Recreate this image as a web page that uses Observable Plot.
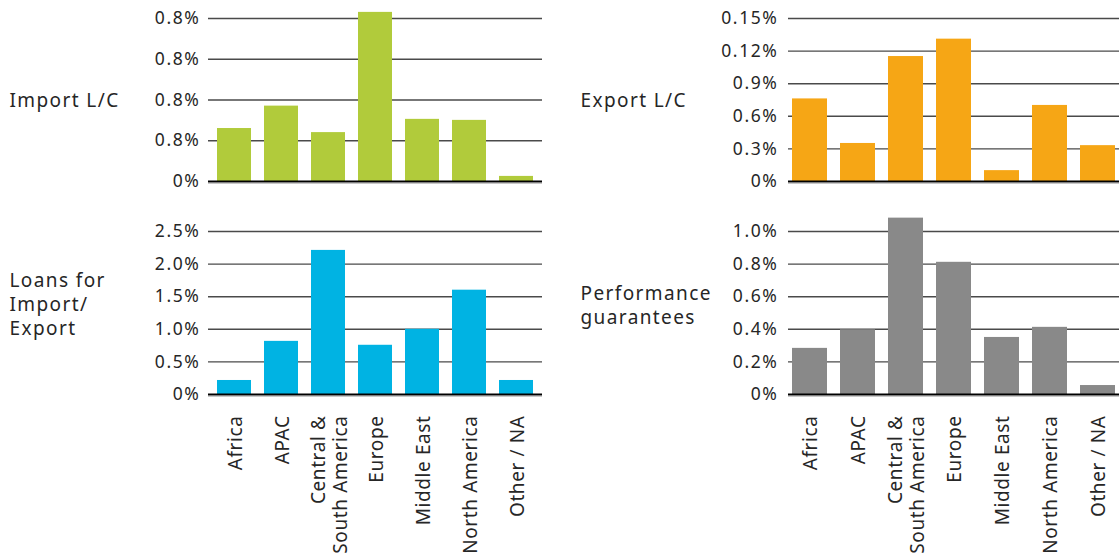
<!DOCTYPE html>
<html>
<head>
<meta charset="utf-8">
<script src="https://cdn.jsdelivr.net/npm/d3@7"></script>
<script src="https://cdn.jsdelivr.net/npm/@observablehq/plot@0.6"></script>
<style>
  html, body { margin: 0; padding: 0; background: #fff; }
  #chart { position: relative; width: 1119px; height: 558px; overflow: hidden; background: #fff; }
  #chart svg { position: absolute; overflow: visible; font-family: "Noto Sans", sans-serif; }
  #chart svg text { fill: #262626; }
  .tk text { letter-spacing: 1.6px; }
  .ttl text { letter-spacing: 1.4px; }
  .cat text { letter-spacing: 0.6px; }
</style>
</head>
<body>
<div id="chart"></div>
<script>
// ---- data ----
const regions = ["Africa", "APAC", "Central &\nSouth America", "Europe", "Middle East", "North America", "Other / NA"];

const importLC = [0.26, 0.37, 0.24, 0.83, 0.305, 0.30, 0.025];
const exportLC = [0.76, 0.35, 1.15, 1.31, 0.10, 0.70, 0.33];
const loansIE  = [0.215, 0.815, 2.21, 0.755, 1.0, 1.6, 0.215];
const perfGuar = [0.283, 0.397, 1.082, 0.811, 0.35, 0.412, 0.055];

const importTicks = [0, 0.2, 0.4, 0.6, 0.8];
const importTickLabels = ["0%", "0.8%", "0.8%", "0.8%", "0.8%"];
const exportTicks = [0, 0.3, 0.6, 0.9, 1.2, 1.5];
const exportTickLabels = ["0%", "0.3%", "0.6%", "0.9%", "0.12%", "0.15%"];
const loansTicks = [0, 0.5, 1.0, 1.5, 2.0, 2.5];
const loansTickLabels = ["0%", "0.5%", "1.0%", "1.5%", "2.0%", "2.5%"];
const perfTicks = [0, 0.2, 0.4, 0.6, 0.8, 1.0];
const perfTickLabels = ["0%", "0.2%", "0.4%", "0.6%", "0.8%", "1.0%"];

const titles = ["Import L/C", "Export L/C", "Loans for\nImport/\nExport", "Performance\nguarantees"];
const colors = ["#b1cb3b", "#f6a615", "#00b3e3", "#898989"];

// ---- panel builder ----
function panel(o) {
  const data = regions.map((r, i) => ({region: r, value: o.values[i]}));
  const labelOf = new Map(o.ticks.map((t, i) => [t, o.tickLabels[i]]));
  const marks = [
    Plot.ruleY(o.ticks.filter(t => t > 0), {stroke: "#4a4a4a", strokeWidth: 1.4}),
    Plot.barY(data, {x: "region", y: "value", fill: o.color}),
    Plot.ruleY([0], {stroke: "#c8c8c8", strokeWidth: 1, dy: 2}),
    Plot.ruleY([0], {stroke: "#000", strokeWidth: 2}),
    Plot.text(o.ticks, {y: d => d, text: d => labelOf.get(d), frameAnchor: "left", textAnchor: "end", dx: o.tickDx, fontSize: 17.5, className: "tk"}),
    Plot.text([o.title], {frameAnchor: "left", textAnchor: "start", dx: -(o.marginLeft - o.titleX), dy: o.titleDy, fontSize: 19, lineHeight: 1.27, className: "ttl"})
  ];
  if (o.showX) {
    marks.push(Plot.text(data, {x: "region", text: "region", frameAnchor: "bottom", rotate: -90, textAnchor: "end", lineAnchor: "middle", dy: 21, fontSize: 19, lineHeight: 1.16, className: "cat"}));
  }
  const svg = Plot.plot({
    width: o.width, height: o.height,
    marginLeft: o.marginLeft, marginRight: o.marginRight, marginTop: o.marginTop, marginBottom: o.marginBottom,
    x: {domain: regions, paddingInner: 0.27, paddingOuter: o.paddingOuter, axis: null},
    y: {domain: [0, o.ticks[o.ticks.length - 1]], axis: null},
    style: {background: "transparent", overflow: "visible"},
    marks
  });
  svg.style.left = o.left + "px";
  svg.style.top = o.top + "px";
  return svg;
}

const chart = document.getElementById("chart");
chart.append(panel({values: importLC, color: colors[0], ticks: importTicks, tickLabels: importTickLabels, title: titles[0],
  left: 0, top: 0, width: 560, height: 200, marginLeft: 208, marginRight: 18, marginTop: 18, marginBottom: 19,
  paddingOuter: 0.135, tickDx: -8, titleX: 9, titleDy: -1, showX: false}));
chart.append(panel({values: exportLC, color: colors[1], ticks: exportTicks, tickLabels: exportTickLabels, title: titles[1],
  left: 560, top: 0, width: 559, height: 200, marginLeft: 228, marginRight: 0, marginTop: 18, marginBottom: 19,
  paddingOuter: 0.0625, tickDx: -10, titleX: 20, titleDy: -1, showX: false}));
chart.append(panel({values: loansIE, color: colors[2], ticks: loansTicks, tickLabels: loansTickLabels, title: titles[2],
  left: 0, top: 200, width: 560, height: 358, marginLeft: 208, marginRight: 18, marginTop: 31, marginBottom: 164,
  paddingOuter: 0.135, tickDx: -8, titleX: 9, titleDy: -10, showX: true}));
chart.append(panel({values: perfGuar, color: colors[3], ticks: perfTicks, tickLabels: perfTickLabels, title: titles[3],
  left: 560, top: 200, width: 559, height: 358, marginLeft: 228, marginRight: 0, marginTop: 31, marginBottom: 164,
  paddingOuter: 0.0625, tickDx: -10, titleX: 20, titleDy: -9, showX: true}));
</script>
</body>
</html>
